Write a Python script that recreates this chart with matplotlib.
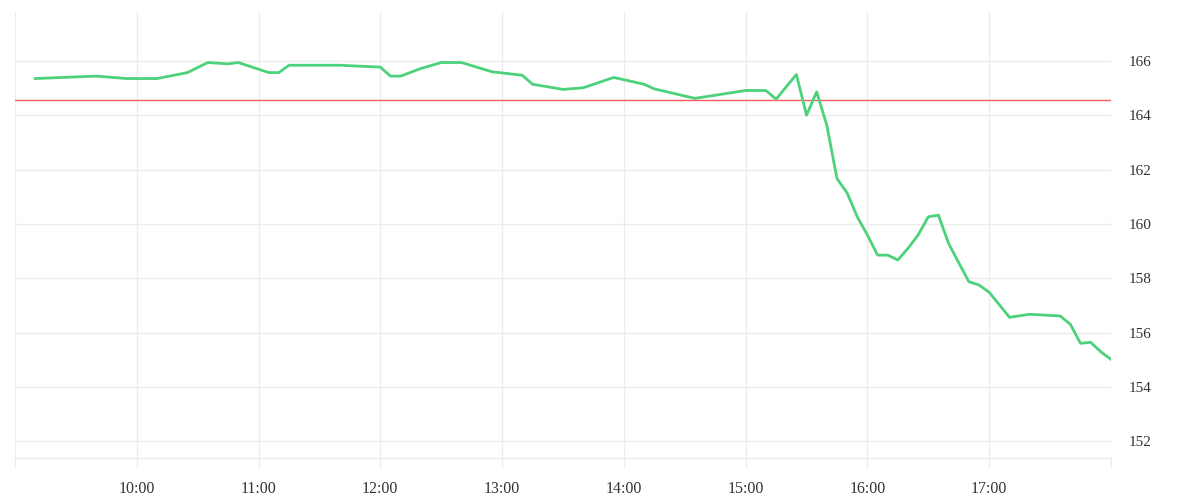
import matplotlib
matplotlib.use("Agg")
import matplotlib.pyplot as plt
import matplotlib.dates as mdates
import pandas as pd

# intraday price, 5-minute samples
times = ["09:10", "09:40", "09:55", "10:10", "10:25", "10:35", "10:45", "10:50",
         "11:05", "11:10", "11:15", "11:40", "12:00", "12:05", "12:10", "12:20",
         "12:30", "12:40", "12:55", "13:10", "13:15", "13:30", "13:40", "13:55",
         "14:10", "14:15", "14:35", "15:00", "15:10", "15:15", "15:25", "15:30",
         "15:35", "15:40", "15:45", "15:50", "15:55", "16:00", "16:05", "16:10",
         "16:15", "16:20", "16:25", "16:30", "16:35", "16:40", "16:45", "16:50",
         "16:55", "17:00", "17:10", "17:20", "17:35", "17:40", "17:45", "17:50",
         "17:55", "18:00"]
prices = [165.35, 165.44, 165.35, 165.35, 165.57, 165.94, 165.89, 165.94,
          165.57, 165.57, 165.84, 165.84, 165.77, 165.44, 165.44, 165.72,
          165.94, 165.94, 165.60, 165.47, 165.14, 164.95, 165.01, 165.39,
          165.14, 164.97, 164.62, 164.91, 164.91, 164.59, 165.50, 164.00,
          164.86, 163.63, 161.67, 161.14, 160.26, 159.59, 158.85, 158.85,
          158.67, 159.10, 159.59, 160.26, 160.32, 159.28, 158.57, 157.87,
          157.75, 157.48, 156.56, 156.67, 156.61, 156.30, 155.60, 155.64,
          155.29, 155.01]
prev_close = 164.55
y_ticks = [152, 154, 156, 158, 160, 162, 164, 166]

day = "2024-01-02 "
x = pd.to_datetime([day + t for t in times])
grid_col = "#ececec"

fig = plt.figure(figsize=(12, 5), dpi=100)
ax = fig.add_axes([0.0125, 0.084, 0.9133, 0.892])

ax.plot(x, prices, color="#4cd27b", lw=2.0, solid_joinstyle="round", zorder=3)
ax.axhline(prev_close, color="#ff5a5f", lw=1.0, zorder=2)

ax.set_xlim(pd.Timestamp(day + "09:00"), pd.Timestamp(day + "18:00"))
ax.set_ylim(151.38, 167.8)

ax.xaxis.set_major_locator(mdates.HourLocator())
ax.xaxis.set_major_formatter(mdates.DateFormatter("%H:%M"))
ax.set_yticks(y_ticks)
ax.yaxis.tick_right()

ax.grid(True, color=grid_col, lw=1.0, zorder=0)
for s in ["top", "left", "right"]:
    ax.spines[s].set_visible(False)
ax.spines["bottom"].set_color(grid_col)
ax.spines["bottom"].set_linewidth(1.0)

ax.tick_params(axis="x", length=7.5, width=1.0, color=grid_col, pad=9,
               labelsize=11.5, labelcolor="#333333")
ax.tick_params(axis="y", length=0, pad=13, labelsize=11, labelcolor="#333333")
for lab in ax.get_xticklabels() + ax.get_yticklabels():
    lab.set_fontfamily("Liberation Serif")

# no labels at the first and last hour
fig.canvas.draw()
labels = ax.get_xticklabels()
labels[0].set_visible(False)
labels[-1].set_visible(False)

fig.savefig("out.png", dpi=100, facecolor="white")
